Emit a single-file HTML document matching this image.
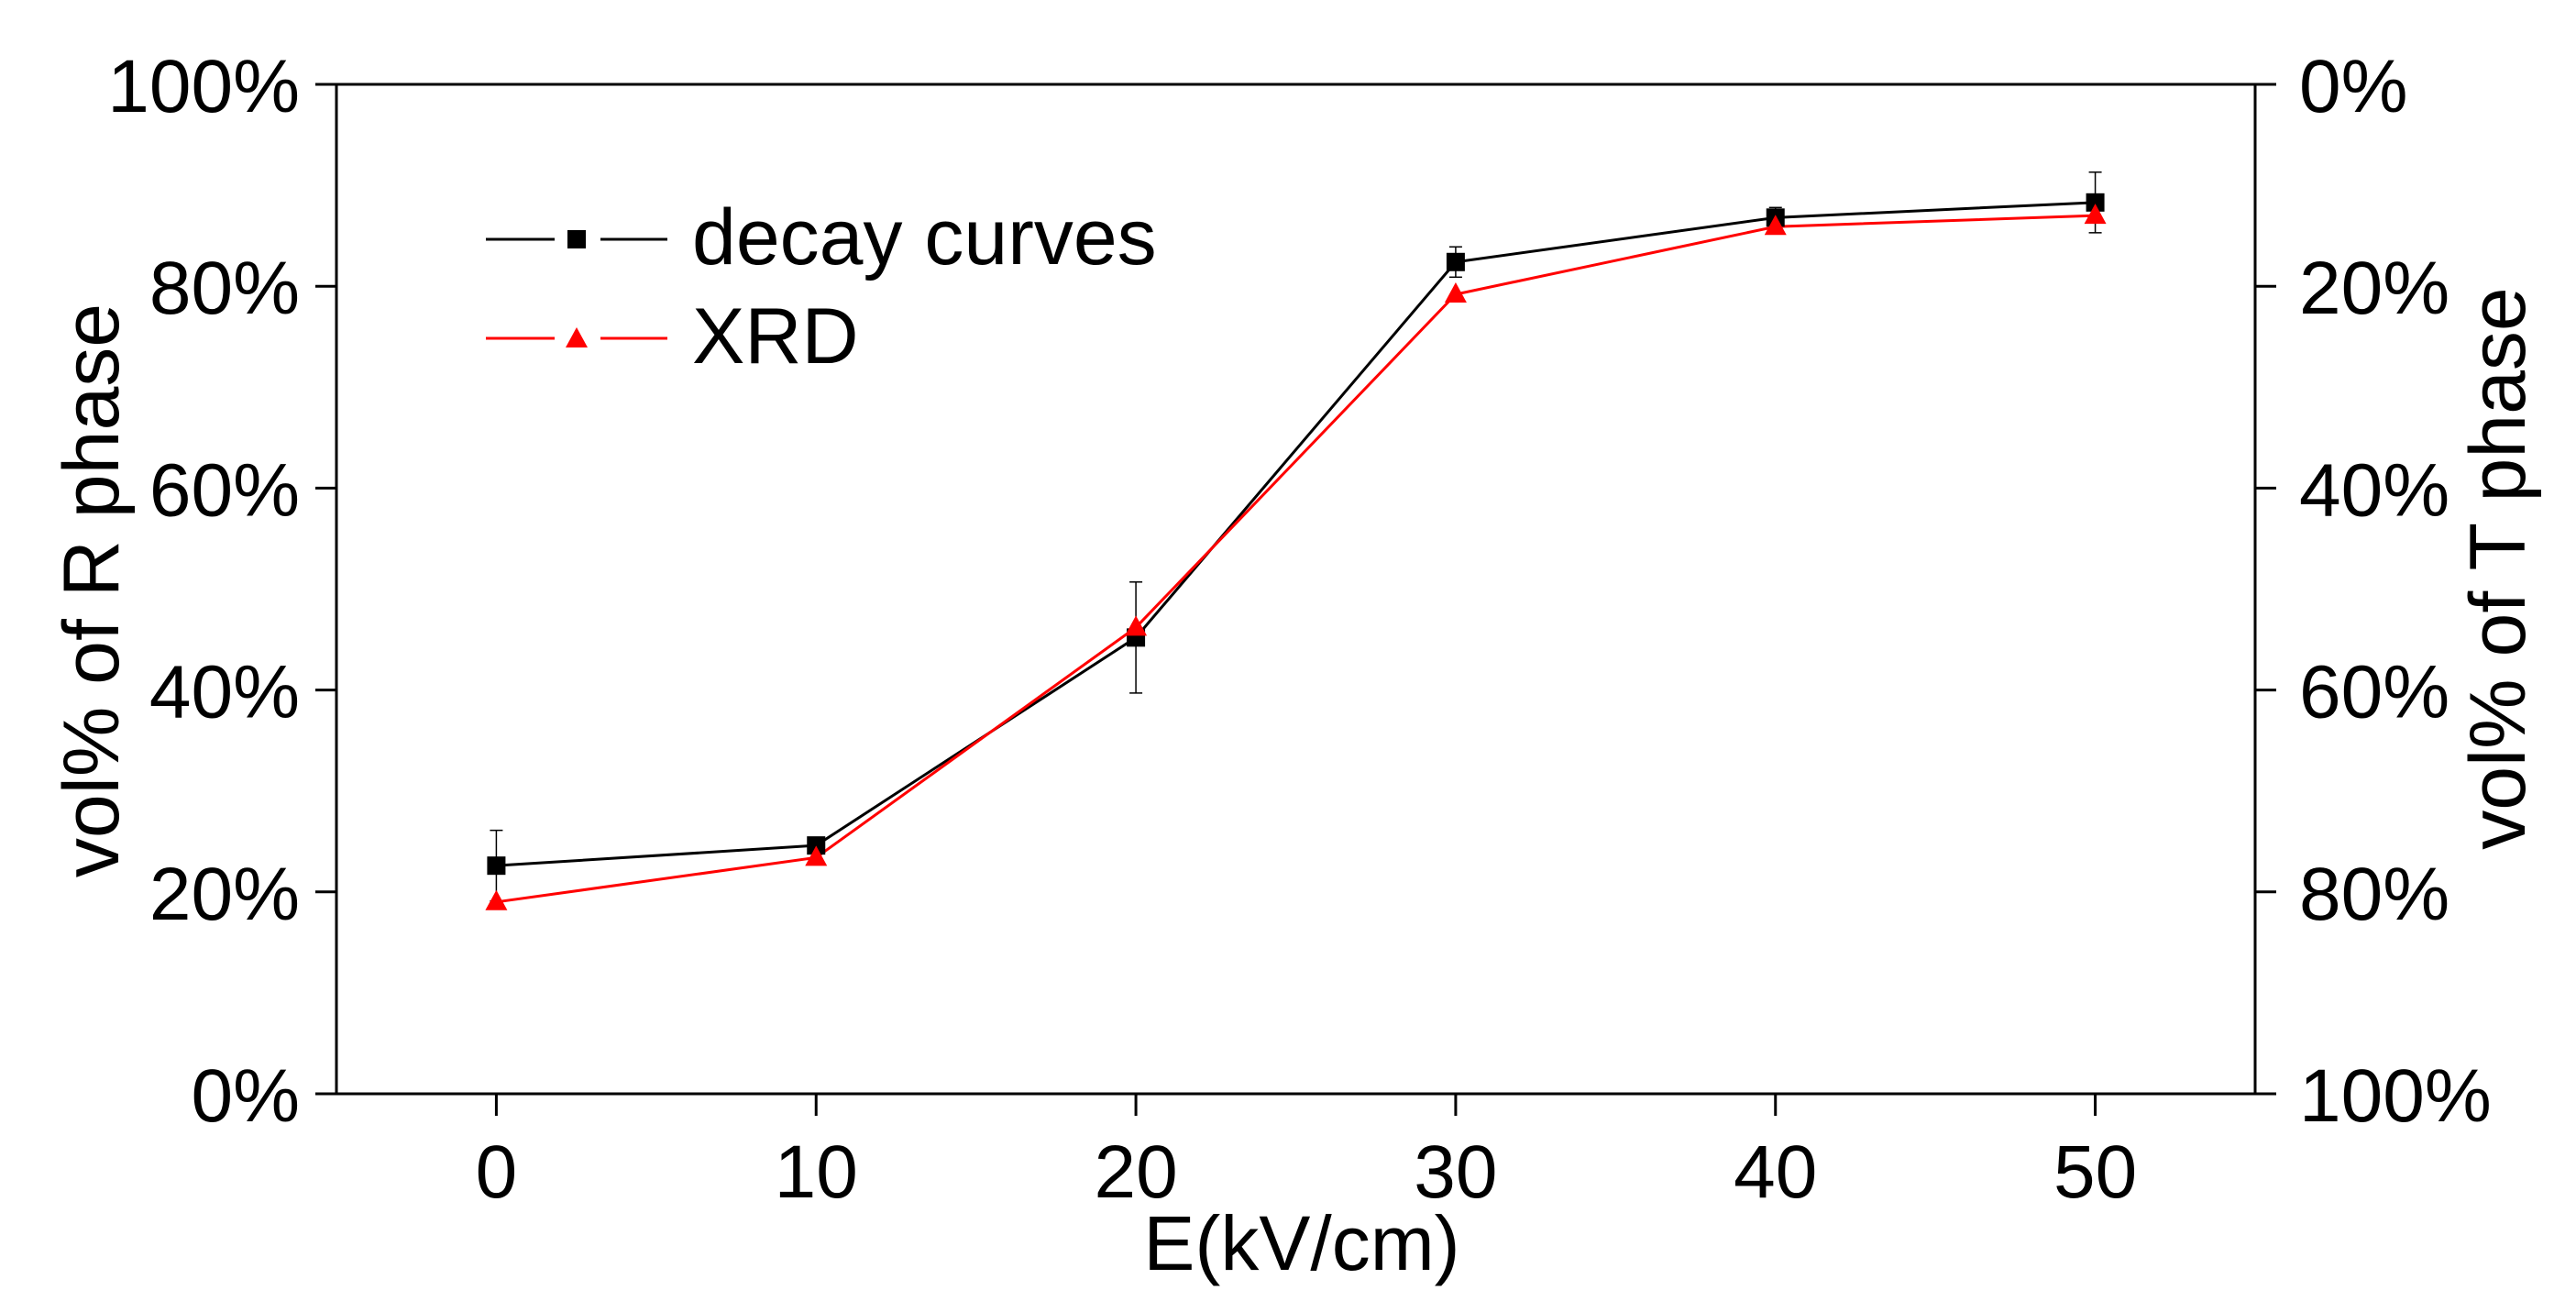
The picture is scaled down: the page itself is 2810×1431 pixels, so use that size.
<!DOCTYPE html>
<html><head><meta charset="utf-8"><style>
html,body{margin:0;padding:0;background:#fff;}
svg text{font-family:"Liberation Sans",Arial,sans-serif;fill:#000;}
</style></head><body>
<svg id="chart" width="2810" height="1426" viewBox="0 0 2810 1426" xmlns="http://www.w3.org/2000/svg">
<g id="axes"></g>
<g id="series"></g>
<g id="legend">
  <line x1="530" y1="261" x2="605" y2="261" stroke="#000" stroke-width="3"/>
  <line x1="655" y1="261" x2="728" y2="261" stroke="#000" stroke-width="3"/>
  <rect x="619" y="251" width="20" height="20" fill="#000"/>
  <text x="755" y="288" font-size="86">decay curves</text>
  <line x1="530" y1="369" x2="605" y2="369" stroke="#f00" stroke-width="3"/>
  <line x1="655" y1="369" x2="728" y2="369" stroke="#f00" stroke-width="3"/>
  <polygon points="629,357 641,379 617,379" fill="#f00"/>
  <text x="755" y="396" font-size="86">XRD</text>
</g>
<text x="99" y="644" font-size="86" text-anchor="middle" transform="rotate(-90 99 644)" dy="30">vol% of R phase</text>
<text x="2724" y="620" font-size="86" text-anchor="middle" transform="rotate(-90 2724 620)" dy="30">vol% of T phase</text>
<text x="1420" y="1385" font-size="84" text-anchor="middle">E(kV/cm)</text>
</svg>
<script>
const categories = [0, 10, 20, 30, 40, 50];
const decayValues = [22.6, 24.6, 45.2, 82.4, 86.8, 88.3];
const decayErrors = [3.5, 0.5, 5.5, 1.5, 1.0, 3.0];
const xrdValues = [19.0, 23.4, 46.2, 79.2, 85.9, 87.0];
const leftTicks = [0, 20, 40, 60, 80, 100];
const rightTickLabels = ["100%", "80%", "60%", "40%", "20%", "0%"];

const NS = "http://www.w3.org/2000/svg";
const L = 367, R = 2460, T = 92, B = 1193;
const xMin = -5, xMax = 55;
function xs(v){ return L + (v - xMin) / (xMax - xMin) * (R - L); }
function ys(v){ return B - v / 100 * (B - T); }
function mk(tag, attrs, parent){
  const e = document.createElementNS(NS, tag);
  for (const k in attrs) e.setAttribute(k, attrs[k]);
  parent.appendChild(e);
  return e;
}
const axes = document.getElementById('axes');
const series = document.getElementById('series');

const frame = mk('rect', {x:L, y:T, width:R-L, height:B-T, fill:'none', stroke:'#000', 'stroke-width':3}, axes);



leftTicks.forEach((v, i) => {
  const y = ys(v);
  const t1 = mk('line', {x1:L-23, y1:y, x2:L, y2:y, stroke:'#000', 'stroke-width':3}, axes);
  
  
  const l1 = mk('text', {x:327, y:y+30, 'font-size':82, 'text-anchor':'end'}, axes);
  l1.textContent = v + '%';
  
  
  const t2 = mk('line', {x1:R, y1:y, x2:R+23, y2:y, stroke:'#000', 'stroke-width':3}, axes);
  
  
  const l2 = mk('text', {x:2508, y:y+30, 'font-size':82}, axes);
  l2.textContent = rightTickLabels[i];
  
  
});
categories.forEach(c => {
  const x = xs(c);
  const t = mk('line', {x1:x, y1:B, x2:x, y2:B+24, stroke:'#000', 'stroke-width':3}, axes);
  
  
  const l = mk('text', {x:x, y:1306, 'font-size':82, 'text-anchor':'middle'}, axes);
  l.textContent = c;
  
  
});

categories.forEach((c, i) => {
  const x = xs(c), y1 = ys(decayValues[i] + decayErrors[i]), y2 = ys(decayValues[i] - decayErrors[i]);
  const g = mk('g', {stroke:'#000', 'stroke-width':1.5}, series);
  
  
  mk('line', {x1:x, y1:y1, x2:x, y2:y2}, g);
  mk('line', {x1:x-7, y1:y1, x2:x+7, y2:y1}, g);
  mk('line', {x1:x-7, y1:y2, x2:x+7, y2:y2}, g);
});

const dPts = categories.map((c,i)=>xs(c)+','+ys(decayValues[i])).join(' ');
const dl = mk('polyline', {points:dPts, fill:'none', stroke:'#000', 'stroke-width':3}, series);


const xPts = categories.map((c,i)=>xs(c)+','+ys(xrdValues[i])).join(' ');
const xl = mk('polyline', {points:xPts, fill:'none', stroke:'#f00', 'stroke-width':3}, series);



categories.forEach((c, i) => {
  const x = xs(c), y = ys(decayValues[i]);
  const m = mk('rect', {x:x-10, y:y-10, width:20, height:20, fill:'#000'}, series);
  
  
});
categories.forEach((c, i) => {
  const x = xs(c), y = ys(xrdValues[i]);
  const m = mk('polygon', {points:`${x},${y-13} ${x+12},${y+9} ${x-12},${y+9}`, fill:'#f00'}, series);
  
  
});
</script>
</body></html>
